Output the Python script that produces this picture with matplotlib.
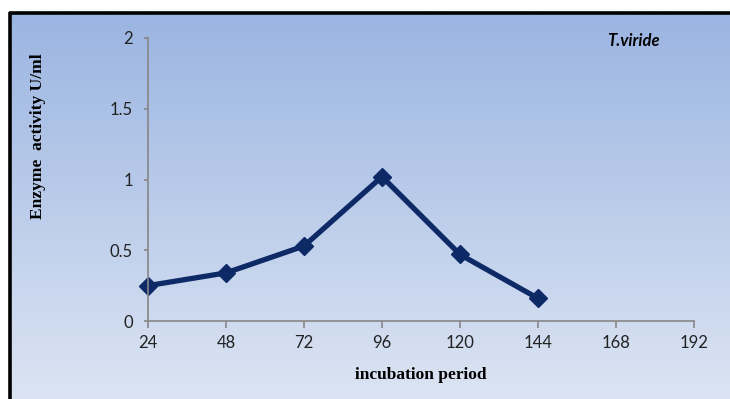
import numpy as np
import matplotlib
matplotlib.use("Agg")
import matplotlib.pyplot as plt
from matplotlib.lines import Line2D
from matplotlib.colors import LinearSegmentedColormap

hours = [24, 48, 72, 96, 120, 144]
activity = [0.25, 0.34, 0.53, 1.02, 0.47, 0.16]
xticks = [24, 48, 72, 96, 120, 144, 168, 192]
yticks = [0, 0.5, 1, 1.5, 2]
ytick_labels = ["0", "0.5", "1", "1.5", "2"]

W, H = 730, 399
fig = plt.figure(figsize=(W / 100, H / 100), dpi=100)
fig.patch.set_facecolor("white")

# gradient background inside the border (slightly oversized to avoid edge artifacts)
bg = fig.add_axes([11 / W, -0.02, 1.05 - 11 / W, 1.02 - 14 / H])
bg.set_axis_off()
cmap = LinearSegmentedColormap.from_list("g", ["#9bb5e2", "#dde5f3"])
grad = np.linspace(0, 1, 256).reshape(-1, 1)
bg.imshow(grad, aspect="auto", cmap=cmap, extent=[0, 1, 0, 1], origin="upper",
          interpolation="bilinear")
bg.set_zorder(0)

# black border (top and left)
fig.add_artist(Line2D([9 / W, 1], [1 - 13 / H, 1 - 13 / H], color="black", lw=2.6,
                      transform=fig.transFigure, solid_capstyle="butt"))
fig.add_artist(Line2D([10 / W, 10 / W], [0, 1 - 12 / H], color="black", lw=2.6,
                      transform=fig.transFigure, solid_capstyle="butt"))

ax = fig.add_axes([148 / W, 1 - 321 / H, (694 - 148) / W, (321 - 38) / H])
ax.patch.set_alpha(0)
ax.set_zorder(2)
ax.plot(hours, activity, color="#0e2a66", lw=3.8, marker="D", markersize=9.5,
        markerfacecolor="#0e2a66", markeredgecolor="#0e2a66", clip_on=False)

ax.set_xlim(24, 192)
ax.set_ylim(0, 2)
ax.set_xticks(xticks)
ax.set_xticklabels([str(t) for t in xticks])
ax.set_yticks(yticks)
ax.set_yticklabels(ytick_labels)
for s in ["top", "right"]:
    ax.spines[s].set_visible(False)
for s in ["left", "bottom"]:
    ax.spines[s].set_color("#868686")
    ax.spines[s].set_linewidth(1.2)
ax.tick_params(axis="x", direction="out", length=5, width=1.2, color="#868686",
               labelsize=12, labelcolor="#222222", pad=5)
ax.tick_params(axis="y", direction="out", length=3, width=1.2, color="#868686",
               labelsize=12, labelcolor="#222222", pad=8)
for lab in ax.get_xticklabels() + ax.get_yticklabels():
    lab.set_fontfamily(["Lato", "DejaVu Sans"])

fig.text(421 / W, 1 - 375 / H, "incubation period", ha="center", va="center",
         fontsize=12.5, fontweight="bold", family=["Liberation Serif", "DejaVu Serif"])
fig.text(38 / W, 1 - 136 / H, "Enzyme  activity U/ml", ha="center", va="center",
         rotation=90, fontsize=12.5, fontweight="bold",
         family=["Liberation Serif", "DejaVu Serif"])
fig.text(633 / W, 1 - 41 / H, "T.viride", ha="center", va="center", fontsize=12,
         fontweight="bold", style="italic", family=["Lato", "DejaVu Sans"])

fig.savefig("out.png", dpi=100)
